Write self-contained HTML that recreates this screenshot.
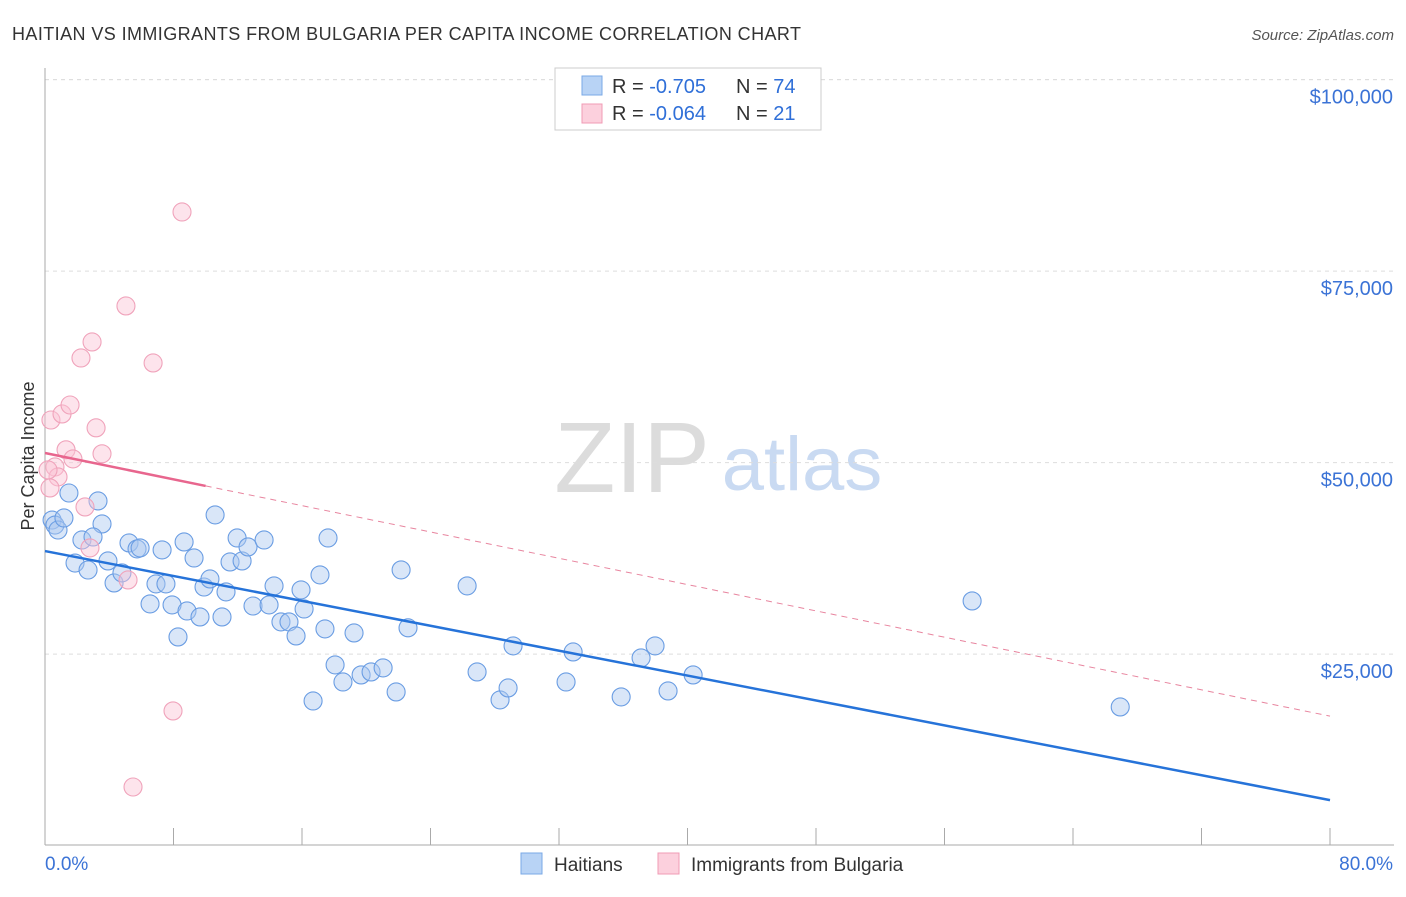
<!DOCTYPE html>
<html><head><meta charset="utf-8"><style>
body{margin:0;background:#fff;font-family:"Liberation Sans",sans-serif}
svg text{font-family:"Liberation Sans",sans-serif}
</style></head><body>
<svg id="chart" width="1406" height="892" viewBox="0 0 1406 892" xmlns="http://www.w3.org/2000/svg">
<text x="12" y="40" font-size="18" fill="#333" textLength="789">HAITIAN VS IMMIGRANTS FROM BULGARIA PER CAPITA INCOME CORRELATION CHART</text>
<text x="1394" y="40" font-size="15" fill="#555" font-style="italic" text-anchor="end">Source: ZipAtlas.com</text>
<g>
<text x="632" y="492" font-size="100" fill="#dcdcdc" font-family="Liberation Serif,serif" text-anchor="middle">ZIP</text>
<text x="802" y="490" font-size="76" fill="#c9daf2" text-anchor="middle">atlas</text>
</g>
<g id="grid"></g><g id="axes"></g><g id="pts"></g><g id="lines"></g>
<text transform="translate(34,456) rotate(-90)" font-size="18" fill="#333" text-anchor="middle">Per Capita Income</text>
<g>
<rect x="555" y="68" width="266" height="62" fill="#fff" stroke="#ccc"/>
<rect x="582" y="76" width="20" height="19" fill="#b8d3f5" stroke="#7aa8e6"/>
<rect x="582" y="104" width="20" height="19" fill="#fcd0dd" stroke="#f09bb5"/>
<text x="612" y="93" font-size="20" fill="#333">R = <tspan fill="#2f6fd8">-0.705</tspan></text>
<text x="736" y="93" font-size="20" fill="#333">N = <tspan fill="#2f6fd8">74</tspan></text>
<text x="612" y="120" font-size="20" fill="#333">R = <tspan fill="#2f6fd8">-0.064</tspan></text>
<text x="736" y="120" font-size="20" fill="#333">N = <tspan fill="#2f6fd8"> 21</tspan></text>
</g>
<g>
<rect x="521" y="853" width="21" height="21" fill="#b8d3f5" stroke="#7aa8e6"/>
<text x="554" y="871" font-size="19" fill="#333">Haitians</text>
<rect x="658" y="853" width="21" height="21" fill="#fcd0dd" stroke="#f09bb5"/>
<text x="691" y="871" font-size="19" fill="#333">Immigrants from Bulgaria</text>
</g>
</svg>
<script>
const blueX=[0.44,0.62,0.81,1.18,1.49,1.87,2.68,3.30,3.55,2.30,2.99,3.92,4.30,4.79,5.23,5.73,5.92,6.54,6.91,7.29,7.53,7.91,8.28,8.66,8.84,9.28,9.65,9.90,10.27,10.59,11.02,11.27,11.52,11.96,12.27,12.64,12.95,13.64,13.95,14.26,14.69,15.19,15.63,15.94,16.13,16.69,17.12,17.43,17.62,18.06,18.55,19.24,19.68,20.30,21.05,21.86,22.17,22.60,26.28,26.90,28.33,28.83,29.14,32.44,32.88,35.87,37.11,37.98,38.79,40.35,57.72,66.94];
const blueY=[42500,41850,41200,42770,46030,36890,35980,44990,41990,39900,40290,37160,34290,35600,39510,38730,38860,31550,34160,38600,34160,31420,27240,39640,30630,37550,29850,33760,34810,43170,29850,33120,37030,40160,37160,38990,31280,39900,31420,33900,29200,29200,27370,33380,30890,18880,35340,28290,40160,23590,21360,27760,22280,22670,23200,20060,35990,28430,33900,22670,19020,20580,26070,21360,25280,19410,24500,26070,20190,22280,31940,18100];
const pinkX=[0.37,1.06,1.56,2.24,2.93,5.04,6.73,8.53,3.18,1.31,3.55,0.62,0.81,1.74,0.31,2.49,2.80,5.17,7.97,5.48,0.19];
const pinkY=[55560,56350,57520,63660,65750,70450,63010,82720,54540,51670,51150,49430,48130,50480,46690,44210,38860,34680,17580,7650,49040];
const blueFit=[38450,5940];
const pinkFit=[51250,16900];
const yTicks=[25000,50000,75000,100000];
const yTickLabels=["$25,000","$50,000","$75,000","$100,000"];
const xTicks=[0,8,16,24,32,40,48,56,64,72,80];

const NS="http://www.w3.org/2000/svg";
const X=v=>45+v/80*1285;
const Y=v=>845.6-v/25000*191.5;
function mk(t,a,p){const e=document.createElementNS(NS,t);for(const k in a)e.setAttribute(k,a[k]);document.getElementById(p).appendChild(e);return e;}
yTicks.forEach((t,i)=>{
 const g=mk('line',{x1:45,x2:1394,y1:Y(t),y2:Y(t),stroke:'#ddd','stroke-dasharray':'4,4'},'grid');
 
 
 const l=mk('text',{x:1393,y:Y(t)+24,'font-size':20,fill:'#3b73d6','text-anchor':'end'},'axes');
 l.textContent=yTickLabels[i];
 
 
});
mk('line',{x1:45,x2:1394,y1:Y(100000),y2:Y(100000),stroke:'#ddd','stroke-dasharray':'4,4'},'grid');
mk('line',{x1:45,x2:45,y1:68,y2:845,stroke:'#aaa'},'axes');
mk('line',{x1:45,x2:1394,y1:845,y2:845,stroke:'#aaa'},'axes');
xTicks.forEach(t=>{
 const e=mk('line',{x1:X(t),x2:X(t),y1:828,y2:845,stroke:'#aaa'},'axes');
 
 
});
const xl0=mk('text',{x:45,y:870,'font-size':19,fill:'#3b73d6'},'axes');xl0.textContent='0.0%';

const xl1=mk('text',{x:1393,y:870,'font-size':19,fill:'#3b73d6','text-anchor':'end'},'axes');xl1.textContent='80.0%';

blueX.forEach((x,i)=>{
 const c=mk('circle',{cx:X(x),cy:Y(blueY[i]),r:9,fill:'rgba(170,200,240,0.45)',stroke:'#6a9de3','stroke-width':1.1},'pts');
 
 
});
pinkX.forEach((x,i)=>{
 const c=mk('circle',{cx:X(x),cy:Y(pinkY[i]),r:9,fill:'rgba(250,195,212,0.45)',stroke:'#f0a3bb','stroke-width':1.1},'pts');
 
 
});
const b=mk('line',{x1:X(0),y1:Y(blueFit[0]),x2:X(80),y2:Y(blueFit[1]),stroke:'#2673d9','stroke-width':2.5},'lines');


const pv=x=>pinkFit[0]+(pinkFit[1]-pinkFit[0])*x/80;
const p1=mk('line',{x1:X(0),y1:Y(pv(0)),x2:X(10),y2:Y(pv(10)),stroke:'#e8668e','stroke-width':2.5},'lines');


const p2=mk('line',{x1:X(10),y1:Y(pv(10)),x2:X(80),y2:Y(pv(80)),stroke:'#e8859f','stroke-width':1,'stroke-dasharray':'6,5'},'lines');


</script>
</body></html>
